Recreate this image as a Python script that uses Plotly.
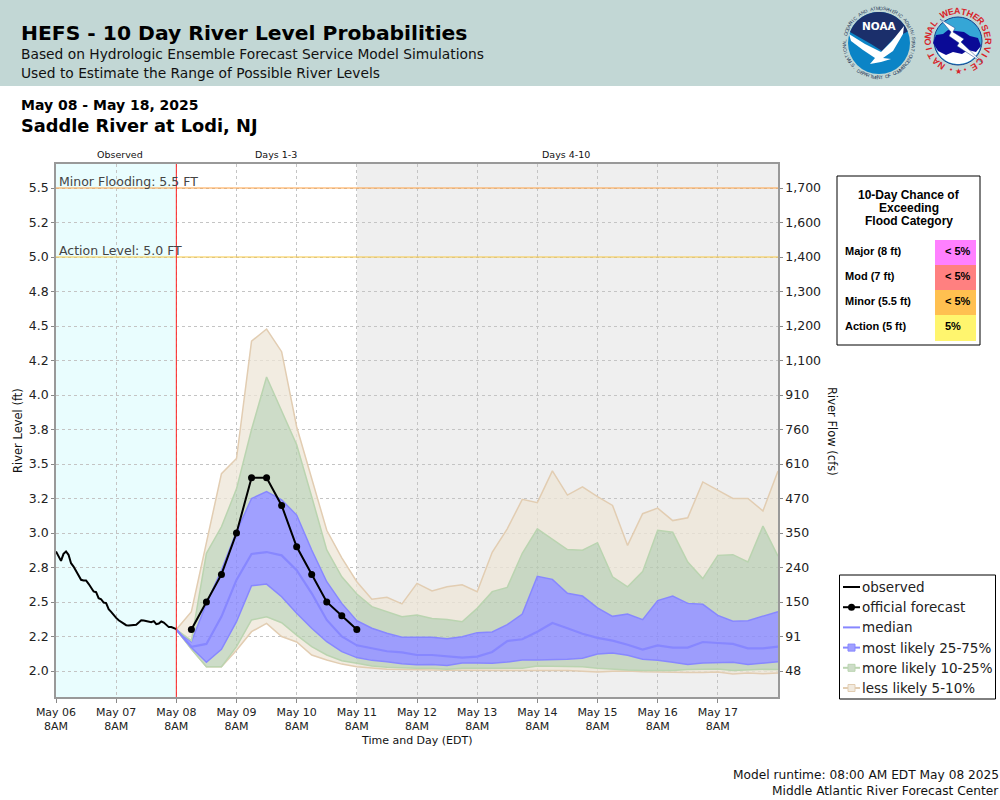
import numpy as np
import pandas as pd
import plotly.graph_objects as go

# observed stage, hourly from May 06 8AM
observed_ft = [
    2.866, 2.83, 2.798, 2.849, 2.866, 2.842, 2.781, 2.757, 2.721, 2.685, 2.661, 2.656, 2.656,
    2.632, 2.6, 2.576, 2.571, 2.528, 2.52, 2.496, 2.492, 2.448, 2.429, 2.405, 2.385, 2.368,
    2.356, 2.344, 2.332, 2.33, 2.33, 2.33, 2.335, 2.351, 2.368, 2.366, 2.361, 2.359, 2.354,
    2.361, 2.339, 2.344, 2.359, 2.351, 2.337, 2.318, 2.318, 2.31, 2.303,
]
# official forecast, 6 hourly from May 08 2PM
forecast_ft = [2.3, 2.5, 2.7, 3.0, 3.4, 3.4, 3.2, 2.9, 2.7, 2.5, 2.4, 2.3]

# ensemble percentiles, 6 hourly from May 08 8AM
p05 = [
    2.30, 2.16, 2.03, 2.03, 2.15, 2.285, 2.345, 2.25, 2.21, 2.116, 2.08, 2.05, 2.03,
    2.02, 2.012, 2.01, 2.007, 2.006, 2.005, 2.005, 2.005, 2.004, 2.004, 2.004, 2.004, 2.004, 2.003,
    1.998, 1.993, 1.998, 2.0, 1.995, 1.993, 1.988, 1.99, 1.99, 1.992, 1.978, 1.985, 1.98, 1.985,
]
p10 = [
    2.30, 2.16, 2.03, 2.03, 2.176, 2.37, 2.393, 2.35, 2.26, 2.176, 2.116, 2.075, 2.056,
    2.036, 2.027, 2.022, 2.02, 2.02, 2.012, 2.02, 2.02, 2.02, 2.02, 2.02, 2.036, 2.036, 2.036,
    2.031, 2.02, 2.012, 2.007, 2.004, 2.004, 2.004, 2.01, 2.014, 2.014, 2.004, 2.01, 2.012, 2.01,
]
p25 = [
    2.30, 2.17, 2.063, 2.157, 2.357, 2.618, 2.63, 2.538, 2.418, 2.31, 2.212, 2.14, 2.097,
    2.077, 2.067, 2.053, 2.046, 2.048, 2.04, 2.058, 2.058, 2.056, 2.065, 2.08, 2.08, 2.08, 2.085,
    2.092, 2.123, 2.13, 2.114, 2.085, 2.077, 2.063, 2.048, 2.058, 2.058, 2.063, 2.048, 2.058, 2.067,
]
p50 = [
    2.30, 2.176, 2.196, 2.394, 2.66, 2.848, 2.862, 2.838, 2.73, 2.563, 2.37, 2.25, 2.186,
    2.164, 2.143, 2.135, 2.116, 2.116, 2.106, 2.097, 2.104, 2.138, 2.217, 2.23, 2.285, 2.348, 2.31,
    2.27, 2.24, 2.22, 2.19, 2.155, 2.186, 2.17, 2.17, 2.21, 2.203, 2.196, 2.164, 2.164, 2.176,
]
p75 = [
    2.30, 2.212, 2.49, 2.73, 3.01, 3.25, 3.30, 3.24, 3.13, 2.877, 2.647, 2.49, 2.365,
    2.31, 2.273, 2.244, 2.244, 2.244, 2.234, 2.249, 2.278, 2.283, 2.336, 2.413, 2.686, 2.664, 2.563,
    2.543, 2.457, 2.396, 2.413, 2.372, 2.51, 2.543, 2.49, 2.483, 2.403, 2.36, 2.365, 2.396, 2.43,
]
p90 = [
    2.30, 2.22, 2.853, 3.045, 3.32, 3.75, 4.13, 3.89, 3.64, 3.263, 2.877, 2.683, 2.558,
    2.466, 2.432, 2.394, 2.406, 2.38, 2.374, 2.357, 2.454, 2.575, 2.606, 2.853, 3.03, 2.957, 2.88,
    2.875, 2.93, 2.683, 2.61, 2.72, 3.02, 3.005, 2.79, 2.67, 2.838, 2.843, 2.79, 3.05, 2.833,
]
p95 = [
    2.30, 2.43, 2.93, 3.43, 3.54, 4.39, 4.478, 4.314, 3.77, 3.40, 3.02, 2.82, 2.647,
    2.52, 2.534, 2.486, 2.635, 2.58, 2.61, 2.625, 2.575, 2.86, 3.03, 3.244, 3.22, 3.45, 3.275,
    3.335, 3.263, 3.20, 2.91, 3.14, 3.18, 3.09, 3.11, 3.37, 3.31, 3.25, 3.25, 3.16, 3.45,
]

stage_ticks = [2.0, 2.25, 2.5, 2.75, 3.0, 3.25, 3.5, 3.75, 4.0, 4.25, 4.5, 4.75, 5.0, 5.25, 5.5]
stage_labels = ["2.0", "2.2", "2.5", "2.8", "3.0", "3.2", "3.5", "3.8", "4.0", "4.2", "4.5", "4.8", "5.0", "5.2", "5.5"]
flow_labels = ["48", "91", "150", "240", "350", "470", "610", "760", "910", "1,100", "1,200", "1,300", "1,400", "1,600", "1,700"]
day_labels = ["May 06", "May 07", "May 08", "May 09", "May 10", "May 11", "May 12", "May 13", "May 14", "May 15", "May 16", "May 17"]

chance_rows = ["Major (8 ft)", "Mod (7 ft)", "Minor (5.5 ft)", "Action (5 ft)"]
chance_values = ["< 5%", "< 5%", "< 5%", "5%"]
chance_colours = ["#FF80FF", "#FF8080", "#FFC050", "#FFF56E"]

legend_labels = ["observed", "official forecast", "median", "most likely 25-75%", "more likely 10-25%", "less likely 5-10%"]

TAN_LINE = "rgba(226,205,178,1)"
TAN_FILL = "rgba(237,229,215,0.75)"
GREEN_LINE = "rgba(186,212,176,1)"
GREEN_FILL = "rgba(184,205,176,0.7)"
BLUE_LINE = "rgba(135,135,255,1)"
BLUE_FILL = "rgba(136,136,255,0.8)"
FONT = "DejaVu Sans"
ARIAL = "Liberation Sans"

obs_times = pd.date_range("2025-05-06 08:00", periods=len(observed_ft), freq="h")
band_times = pd.date_range("2025-05-08 08:00", periods=len(p50), freq="6h")
fcst_times = pd.date_range("2025-05-08 14:00", periods=len(forecast_ft), freq="6h")
day_ticks = pd.date_range("2025-05-06 08:00", periods=len(day_labels), freq="D")


def px(x):
    return x / 1000


def py(y):
    return 1 - y / 800


def text(fig, x, y, label, size=12, bold=False, colour="#111111", family=FONT, xanchor="left", angle=0):
    if bold:
        label = f"<b>{label}</b>"
    fig.add_annotation(
        x=px(x), y=py(y), xref="paper", yref="paper", text=label, showarrow=False,
        xanchor=xanchor, yanchor="middle", textangle=angle, align=xanchor,
        font=dict(family=family, size=size, color=colour), borderpad=0, borderwidth=0,
    )


def box(fig, x0, y0, x1, y1, fill, line="rgba(0,0,0,0)", width=1, kind="rect", layer="above"):
    fig.add_shape(
        type=kind, xref="paper", yref="paper", x0=px(x0), x1=px(x1), y0=py(y0), y1=py(y1),
        fillcolor=fill, line=dict(color=line, width=width), layer=layer,
    )


def polygon(fig, points, fill, line="rgba(0,0,0,0)", width=0):
    path = "M " + " L ".join(f"{px(x):.5f},{py(y):.5f}" for x, y in points) + " Z"
    fig.add_shape(type="path", xref="paper", yref="paper", path=path, fillcolor=fill, line=dict(color=line, width=width))


def ring_text(fig, cx, cy, radius, label, start, stop, size, colour, bold=False, inward=False):
    # one annotation per letter, angles clockwise from the top of the circle
    angles = np.linspace(start, stop, len(label))
    for letter, deg in zip(label, angles):
        if letter == " ":
            continue
        rad = np.radians(deg)
        text(fig, cx + radius * np.sin(rad), cy - radius * np.cos(rad), letter, size=size, bold=bold,
             colour=colour, family=ARIAL, xanchor="center", angle=deg - 180 if inward else deg)


def arc(cx, cy, r, start, stop, n=24):
    rad = np.radians(np.linspace(start, stop, n))
    return [(cx + r * np.sin(a), cy - r * np.cos(a)) for a in rad]


def add_noaa_logo(fig, cx, cy):
    box(fig, cx - 31, cy - 31, cx + 31, cy + 31, "#0B84C6", kind="circle")
    navy = arc(cx, cy, 31, -68, 68) + [(cx + 14, cy - 4), (cx + 3, cy + 8), (cx - 8, cy + 1), (cx - 29, cy - 11)]
    polygon(fig, navy, "#1B2F6B")
    bird = [(cx - 30, cy - 9), (cx - 14, cy + 1), (cx + 2, cy + 9), (cx + 13, cy - 2), (cx + 25, cy - 17),
            (cx + 24, cy - 9), (cx + 14, cy + 8), (cx + 4, cy + 15), (cx + 12, cy + 16), (cx + 2, cy + 19),
            (cx - 9, cy + 21), (cx - 4, cy + 15), (cx - 16, cy + 7), (cx - 28, cy - 2)]
    polygon(fig, bird, "#FFFFFF")
    text(fig, cx, cy - 17, "NOAA", size=10.5, bold=True, colour="#FFFFFF", xanchor="center")
    ring_text(fig, cx, cy, 34.5, "NATIONAL OCEANIC AND ATMOSPHERIC ADMINISTRATION", -122, 118, 4.8, "#2A3A5A")
    ring_text(fig, cx, cy, 34.5, "U.S. DEPARTMENT OF COMMERCE", 238, 122, 4.8, "#2A3A5A", inward=True)


def add_nws_logo(fig, cx, cy):
    box(fig, cx - 24, cy - 24, cx + 24, cy + 24, "#35A6D6", line="#14408E", width=1, kind="circle")
    white = arc(cx, cy, 23, 100, 260)
    polygon(fig, white, "#FFFFFF")
    cloud = [(cx - 25, cy + 2), (cx - 22, cy - 6), (cx - 15, cy - 7), (cx - 10, cy - 11), (cx - 2, cy - 10),
             (cx + 6, cy - 9), (cx + 12, cy - 5), (cx + 20, cy - 3), (cx + 23, cy + 5), (cx + 18, cy + 11),
             (cx + 10, cy + 9), (cx + 4, cy + 13), (cx - 5, cy + 11), (cx - 12, cy + 14), (cx - 20, cy + 10)]
    polygon(fig, cloud, "#0A0A96")
    bolt = [(cx - 18, cy - 22), (cx - 3, cy - 13), (cx - 5, cy - 9), (cx + 6, cy - 2), (cx + 3, cy + 1),
            (cx + 25, cy + 22), (cx - 1, cy + 5), (cx + 1, cy + 2), (cx - 9, cy - 5), (cx - 7, cy - 9)]
    polygon(fig, bolt, "#FFFFFF", line="#14408E", width=0.5)
    ring_text(fig, cx, cy, 30, "NATIONAL", -145, -53, 9, "#D8232A", bold=True)
    ring_text(fig, cx, cy, 30, "WEATHER", -27, 49, 9, "#D8232A", bold=True)
    ring_text(fig, cx, cy, 30, "SERVICE", 64, 148, 9, "#D8232A", bold=True)
    for deg, mark, size in [(166, "•", 7), (180, "★", 8), (194, "•", 7)]:
        rad = np.radians(deg)
        text(fig, cx + 30 * np.sin(rad), cy - 30 * np.cos(rad), mark, size=size, colour="#D8232A", xanchor="center")


fig = go.Figure()

# shaded periods sit under the gridlines
fig.add_shape(type="rect", xref="x", yref="paper", x0=day_ticks[0], x1=band_times[0],
              y0=py(697), y1=py(164), fillcolor="#E9FDFE", line_width=0, layer="below")
fig.add_shape(type="rect", xref="x", yref="paper", x0=band_times[12], x1=band_times[-1],
              y0=py(697), y1=py(164), fillcolor="#EFEFEF", line_width=0, layer="below")

# bands stacked upward, each trace fills down to the previous one
band_stack = [
    (p05, TAN_LINE, None),
    (p10, GREEN_LINE, TAN_FILL),
    (p25, BLUE_LINE, GREEN_FILL),
    (p75, BLUE_LINE, BLUE_FILL),
    (p90, GREEN_LINE, GREEN_FILL),
    (p95, TAN_LINE, TAN_FILL),
]
for values, line_colour, fill_colour in band_stack:
    fig.add_trace(go.Scatter(
        x=band_times, y=values, mode="lines", line=dict(color=line_colour, width=1.5),
        fill="tonexty" if fill_colour else None, fillcolor=fill_colour, hoverinfo="skip",
    ))

fig.add_trace(go.Scatter(x=band_times, y=p50, mode="lines", line=dict(color=BLUE_LINE, width=2.2)))
fig.add_trace(go.Scatter(x=obs_times, y=observed_ft, mode="lines", line=dict(color="black", width=2)))
fig.add_trace(go.Scatter(
    x=fcst_times, y=forecast_ft, mode="lines+markers", line=dict(color="black", width=2),
    marker=dict(color="black", size=7),
))
# keeps the right axis on the page
fig.add_trace(go.Scatter(x=[day_ticks[0]], y=[stage_ticks[0]], yaxis="y2", mode="lines", hoverinfo="skip"))

# flood thresholds and the forecast start
fig.add_shape(type="line", xref="paper", yref="y", x0=px(56), x1=px(778), y0=5.5, y1=5.5,
              line=dict(color="#FFA040", width=1))
fig.add_shape(type="line", xref="paper", yref="y", x0=px(56), x1=px(778), y0=5.0, y1=5.0,
              line=dict(color="#F8C840", width=1))
fig.add_shape(type="line", xref="x", yref="paper", x0=band_times[0], x1=band_times[0], y0=py(697), y1=py(164),
              line=dict(color="#FF2020", width=1))
text(fig, 59, 181.5, "Minor Flooding: 5.5 FT", size=12.5, colour="#444444")
text(fig, 59, 250.5, "Action Level: 5.0 FT", size=12.5, colour="#444444")

axis_common = dict(
    range=[2 - 26 / 138, 2 + (671 - 164) / 138], tickvals=stage_ticks, showline=True, linecolor="#999999",
    linewidth=1.5, ticks="outside", ticklen=3, tickcolor="#888888", automargin=False,
    tickfont=dict(family=FONT, size=12.5, color="#222222"),
)
fig.update_layout(
    width=1000, height=800, margin=dict(l=0, r=0, t=0, b=0), autosize=False,
    paper_bgcolor="white", plot_bgcolor="white", showlegend=False,
    xaxis=dict(
        domain=[px(56), px(778)], range=[day_ticks[0], band_times[-1]], tickvals=day_ticks,
        ticktext=[f"{d}<br>8AM" for d in day_labels], tickfont=dict(family=FONT, size=11, color="#222222"),
        showgrid=True, gridcolor="#C4C4C4", griddash="3px,3px", gridwidth=1, showline=True, linecolor="#999999",
        linewidth=1.5, ticks="outside", ticklen=4, tickcolor="#888888", mirror=True, tickangle=0, automargin=False,
    ),
    yaxis=dict(
        domain=[py(697), py(164)], ticktext=stage_labels, showgrid=True, gridcolor="#C4C4C4", griddash="3px,3px",
        gridwidth=1, **axis_common,
    ),
    yaxis2=dict(overlaying="y", side="right", anchor="x", ticktext=flow_labels, showgrid=False, **axis_common),
)

# axis titles
text(fig, 417, 740, "Time and Day (EDT)", size=11, xanchor="center")
text(fig, 18, 431, "River Level (ft)", size=11.5, xanchor="center", angle=-90)
text(fig, 832, 431, "River Flow (cfs)", size=11.5, xanchor="center", angle=90)

# header band
box(fig, 0, 0, 1000, 86, "#C2D7D5", layer="below")
text(fig, 21, 33, "HEFS - 10 Day River Level Probabilities", size=20.3, bold=True, colour="#000000")
text(fig, 21, 54, "Based on Hydrologic Ensemble Forecast Service Model Simulations", size=13.8)
text(fig, 21, 73, "Used to Estimate the Range of Possible River Levels", size=13.8)
add_noaa_logo(fig, 879, 43)
add_nws_logo(fig, 958, 41)

text(fig, 21, 105, "May 08 - May 18, 2025", size=14, bold=True, colour="#000000")
text(fig, 21, 125, "Saddle River at Lodi, NJ", size=17.8, bold=True, colour="#000000")

text(fig, 120, 154, "Observed", size=9.5, xanchor="center")
text(fig, 276, 154, "Days 1-3", size=9.5, xanchor="center")
text(fig, 566, 154, "Days 4-10", size=9.5, xanchor="center")

# exceedance table
box(fig, 837, 176, 980, 345, "white", line="black", width=1)
for i, line in enumerate(["10-Day Chance of", "Exceeding", "Flood Category"]):
    text(fig, 909, 195 + i * 13, line, size=12, bold=True, family=ARIAL, colour="#000000", xanchor="center")
for i in range(len(chance_rows)):
    top = 240 + i * 25
    box(fig, 935, top, 976, top + 26, chance_colours[i])
    text(fig, 845, top + 11, chance_rows[i], size=11, bold=True, family=ARIAL, colour="#000000")
    text(fig, 945, top + 11, chance_values[i], size=11, bold=True, family=ARIAL, colour="#000000")

# legend box, entries styled as in the source page
box(fig, 839.5, 575, 995.5, 699, "white", line="black", width=1)
legend_lines = ["black", "black", BLUE_LINE, BLUE_LINE, GREEN_LINE, TAN_LINE]
legend_marks = [None, "black", None, "#A0A0FF", "#CDDCC8", "#F1EADF"]
for i, label in enumerate(legend_labels):
    row = 587 + i * 20.2
    fig.add_shape(type="line", xref="paper", yref="paper", x0=px(843), x1=px(860), y0=py(row), y1=py(row),
                  line=dict(color=legend_lines[i], width=2))
    if legend_marks[i] == "black":
        box(fig, 848, row - 3.5, 855, row + 3.5, "black", kind="circle")
    elif legend_marks[i]:
        box(fig, 848, row - 3.5, 855, row + 3.5, legend_marks[i], line=legend_lines[i])
    text(fig, 861.5, row, label, size=13.5, colour="#222222")

text(fig, 999, 775, "Model runtime: 08:00 AM EDT May 08 2025", size=12.2, xanchor="right")
text(fig, 999, 791, "Middle Atlantic River Forecast Center", size=12.2, xanchor="right")

fig.write_html("out.html", config=dict(displayModeBar=False), post_script="document.body.style.margin='0';")
